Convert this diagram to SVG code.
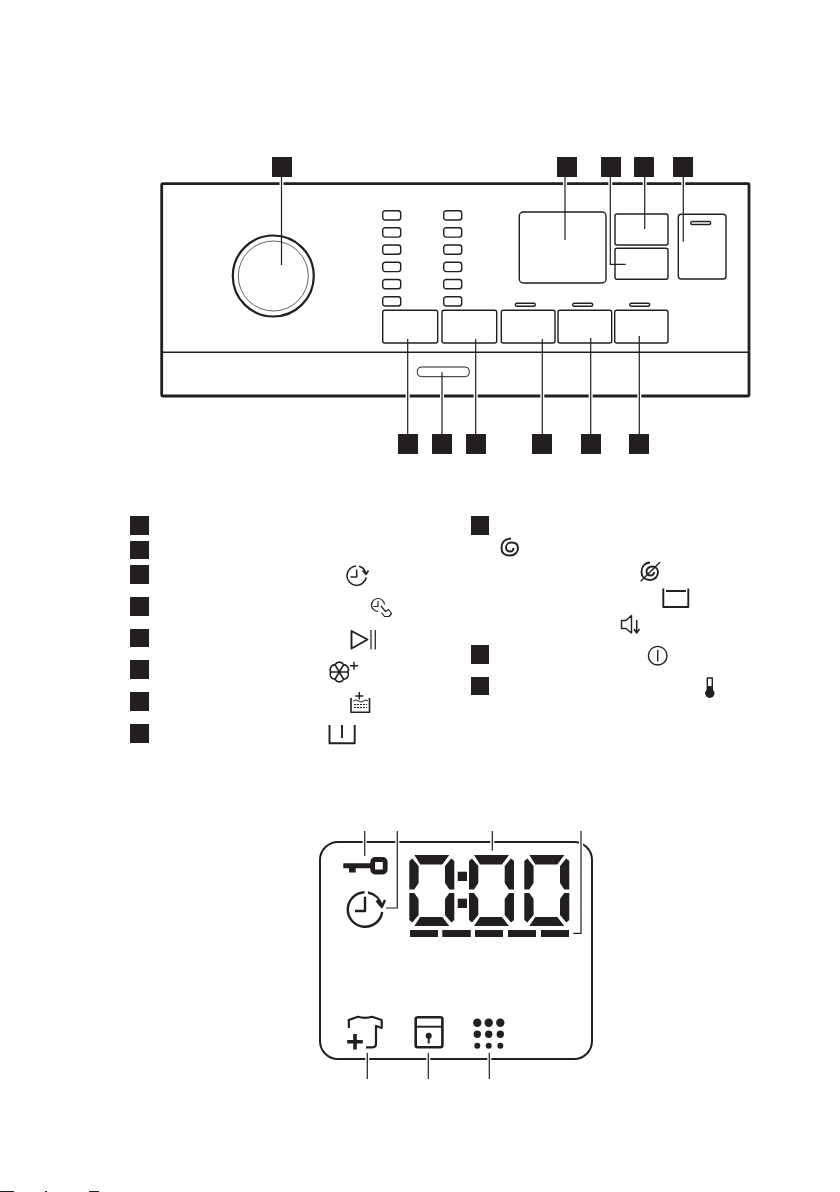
<svg xmlns="http://www.w3.org/2000/svg" width="840" height="1192" viewBox="0 0 840 1192">
<style>
.bg{fill:#fff}
.sq{fill:#231f20}
.ln{fill:none;stroke:#231f20;stroke-width:1.4;stroke-linejoin:round}
.th{fill:none;stroke:#231f20;stroke-width:.7}
.md{fill:none;stroke:#231f20;stroke-width:1.9;stroke-linejoin:round}
.hv{fill:none;stroke:#231f20;stroke-width:2.4;stroke-linejoin:round}
.fl{fill:#231f20}
.seg{fill:#231f20}
.halo{fill:none;stroke:#fff;stroke-width:4}
.ld{fill:none;stroke:#231f20;stroke-width:1.2}
</style>
<defs>
<g id="digit">
<polygon class="seg" points="5,0 40,0 33,9.5 11,9.5"/>
<polygon class="seg" points="0,6 3,3.5 9.3,11 9.3,28 5,34.5 0,34.5"/>
<polygon class="seg" points="45,6 42,3.5 35.7,11 35.7,28 40,34.5 45,34.5"/>
<polygon class="seg" points="0,38 5,38 9.3,44 9.3,60 3,67.5 0,65"/>
<polygon class="seg" points="45,38 40,38 35.7,44 35.7,60 42,67.5 45,65"/>
<polygon class="seg" points="5,71 40,71 33,62 11,62"/>
</g>
<rect id="led" width="18" height="9.3" rx="2.5" class="ln"/>
<rect id="dash" width="20" height="3" rx="1.5" class="ln"/>
</defs>
<rect class="bg" width="840" height="1192"/>

<g id="panel">
<rect x="161.7" y="183.7" width="587.3" height="212.3" rx="1" fill="none" stroke="#231f20" stroke-width="2.8"/>
<line x1="161.7" y1="352.3" x2="749" y2="352.3" class="ln"/>
</g>
<g id="knob">
<circle cx="273.3" cy="276" r="40.5" fill="none" stroke="#231f20" stroke-width="2.2"/>
<circle cx="273.3" cy="276" r="35" class="th"/>
</g>
<g id="leds">
<use href="#led" x="382.7" y="210.7"/><use href="#led" x="382.7" y="227.8"/><use href="#led" x="382.7" y="245"/><use href="#led" x="382.7" y="262.3"/><use href="#led" x="382.7" y="279.5"/><use href="#led" x="382.7" y="296.7"/>
<use href="#led" x="443.7" y="210.7"/><use href="#led" x="443.7" y="227.8"/><use href="#led" x="443.7" y="245"/><use href="#led" x="443.7" y="262.3"/><use href="#led" x="443.7" y="279.5"/><use href="#led" x="443.7" y="296.7"/>
</g>
<g id="buttons">
<rect x="382.7" y="310.3" width="55" height="32.7" rx="2" class="ln"/>
<rect x="442" y="310.3" width="54.7" height="32.7" rx="2" class="ln"/>
<rect x="501.3" y="310.3" width="53.7" height="32.7" rx="2" class="ln"/>
<rect x="558" y="310.3" width="53.7" height="32.7" rx="2" class="ln"/>
<rect x="614.7" y="310.3" width="53.3" height="32.7" rx="2" class="ln"/>
<use href="#dash" x="515.3" y="303.2"/><use href="#dash" x="572.7" y="303.2"/><use href="#dash" x="629.7" y="303.2"/>
<rect x="417.3" y="367" width="52" height="9.7" rx="4" class="th" style="stroke-width:1"/>
</g>
<g id="display">
<rect x="519.3" y="212" width="86.7" height="71" rx="4" class="ln"/>
</g>
<g id="right-buttons">
<rect x="615" y="214" width="53" height="31" rx="2" class="ln"/>
<rect x="615" y="248.3" width="53" height="31" rx="2" class="ln"/>
<rect x="678.3" y="214.3" width="47.7" height="64.7" rx="3" class="ln"/>
<rect x="690.7" y="221.5" width="20" height="3" rx="1.5" class="ln"/>
</g>

<g id="connectors">
<path class="halo" d="M281.5 177V185M565 177V190M610.3 177V190M644.7 177V190M683.3 177V190M407.7 390V402M442 390V402M475.7 390V402M542.3 390V402M590.7 390V402M639.3 390V402"/>
<path class="ld" d="M281.5 177V265M565 177V240M610.3 177V264.3H625.7M644.7 177V229M683.3 177V241.7M407.7 339V434M442 372.3V434M475.7 339V434M542.3 339V434M590.7 338V434M639.3 336V434"/>
</g>

<g id="callouts-top">
<rect class="sq" x="272" y="157" width="20" height="20"/>
<rect class="sq" x="557" y="157" width="20" height="20"/>
<rect class="sq" x="601" y="157" width="20" height="20"/>
<rect class="sq" x="634" y="157" width="20" height="20"/>
<rect class="sq" x="673" y="157" width="20" height="20"/>
</g>
<g id="callouts-bottom">
<rect class="sq" x="398" y="434" width="20" height="20"/>
<rect class="sq" x="432" y="434" width="20" height="20"/>
<rect class="sq" x="466" y="434" width="20" height="20"/>
<rect class="sq" x="532" y="434" width="20" height="20"/>
<rect class="sq" x="581" y="434" width="20" height="20"/>
<rect class="sq" x="629" y="434" width="20" height="20"/>
</g>
<g id="legend-left">
<rect class="sq" x="130" y="516" width="19" height="19"/>
<rect class="sq" x="130" y="541" width="19" height="18"/>
<rect class="sq" x="130" y="565" width="19" height="19"/>
<rect class="sq" x="130" y="597" width="19" height="19"/>
<rect class="sq" x="130" y="629" width="19" height="18"/>
<rect class="sq" x="130" y="660" width="19" height="19"/>
<rect class="sq" x="130" y="692" width="19" height="19"/>
<rect class="sq" x="130" y="724" width="19" height="19"/>
</g>
<g id="legend-right">
<rect class="sq" x="471" y="516" width="18" height="19"/>
<rect class="sq" x="471" y="645" width="18" height="19"/>
<rect class="sq" x="471" y="677" width="18" height="18"/>
</g>

<g id="icon-clock">
<path class="md" style="stroke-width:1.5" d="M366.2 577.5A9.7 9.7 0 1 1 356 566M359 566.2A9.7 9.7 0 0 1 365.8 573M362.5 570.5L366 574.5L368.5 570.5M356.7 569.5V577H350.5"/>
</g>
<g id="icon-clock-hand">
<path class="ln" style="stroke-width:1.2" d="M384.5 604.5A6.5 6.5 0 1 0 378 611.5M378 601V606.5H373.5M381 606L385.5 611.5L388.5 609.5L391.5 613.5L389 616.5L384.5 616.5L381.5 612.5"/>
</g>
<g id="icon-play">
<path class="md" d="M351.5 631L367.5 639.5L351.5 648.5Z"/>
<path class="ln" style="stroke-width:1.2" d="M371 630V649.5M375.3 630V649.5"/>
</g>
<g id="icon-flower">
<path class="md" style="stroke-width:1.7" d="M347.8 672A5 5 0 0 0 343.6 664.6A5 5 0 0 0 335 664.6A5 5 0 0 0 330.8 672A5 5 0 0 0 335 679.4A5 5 0 0 0 343.6 679.4A5 5 0 0 0 347.8 672H330.8M335 664.6L343.6 679.4M343.6 664.6L335 679.4"/>
<path class="ln" d="M350 665.7H358M354 661.7V669.7"/>
</g>
<g id="icon-softener">
<path class="md" style="stroke-width:1.6" d="M351 698V712.3H369.5V698"/>
<path class="ln" style="stroke-width:1" d="M353.5 701Q356 699 358.5 701T363.5 701T368 701"/>
<path class="ln" d="M355.3 696H363.3M359.3 692V699.5"/>
<path class="ln" style="stroke-width:1;stroke-dasharray:2 1" d="M354 704.5H367M354 707.5H367"/>
</g>
<g id="icon-tub">
<path class="md" d="M329.5 725V743.3H354.7V725M342 725V738"/>
</g>
<g id="icon-spiral">
<path class="md" d="M511 538.5C504 539 501.5 543.5 501.5 548C501.5 553 505 555.5 510 555.5C515 555.5 518 552 518 548C518 544 515 542.5 511.5 542.5C508 542.5 506 545 506 547.5C506 550 508 551.5 510 551.5C512 551.5 513.5 550 513.5 548"/>
</g>
<g id="icon-nospin">
<path class="md" d="M650 562.5C644 563 641.5 567.5 641.5 572C641.5 577 645 580 650 580C655 580 658 576 658 572C658 568.5 655 566.5 652 566.5C649 566.5 646.5 569 646.5 571.5C646.5 574 648.5 575.5 650.5 575.5C652.5 575.5 654 574 654 572"/>
<path class="ln" d="M640.7 581.3L660 562.3"/>
</g>
<g id="icon-tub2">
<path class="md" d="M663.3 588.5V607H688.3V588.5M666 591H686"/>
</g>
<g id="icon-speaker">
<path class="ln" d="M621.5 620.5H626L631.5 615.5V633L626 628.5H621.5Z"/>
<path class="md" style="stroke-width:1.5" d="M636.7 620V632.5M634 629L636.7 633L639.5 629"/>
</g>
<g id="icon-power">
<circle class="ln" cx="657.7" cy="655.7" r="9.3"/>
<path class="ln" d="M657.7 650V661.5"/>
</g>
<g id="icon-thermo">
<rect class="ln" x="707.3" y="678" width="5" height="13"/>
<circle class="fl" cx="709.8" cy="693.3" r="4.7"/>
<rect class="fl" x="707.8" y="686" width="4" height="6"/>
</g>

<g id="lcd">
<rect x="320" y="842" width="272" height="217" rx="18" fill="none" stroke="#231f20" stroke-width="2"/>
</g>
<g id="icon-key">
<rect x="372.7" y="859.5" width="12.5" height="12.5" rx="2.5" fill="none" stroke="#231f20" stroke-width="4.8"/>
<path class="fl" d="M343.3 863.3H372V868.3H355.7V872.5H349V868.3H343.3Z"/>
</g>
<g id="icon-delay">
<path class="hv" d="M382.2 912A17.3 17.3 0 1 1 364.5 892.2M368 892.5A17.3 17.3 0 0 1 381.5 905M376.5 900.5L381.8 907L385 900M365 896.7V911H355"/>
</g>
<g id="digits">
<use href="#digit" x="409.3" y="855"/>
<use href="#digit" x="469" y="855"/>
<use href="#digit" x="524.3" y="855"/>
<rect class="fl" x="457.7" y="871.7" width="9.3" height="9.3"/>
<rect class="fl" x="457.7" y="898.7" width="9.3" height="9.3"/>
</g>
<g id="bars">
<rect class="fl" x="410" y="930" width="28" height="7"/>
<rect class="fl" x="442.3" y="930" width="28.5" height="7"/>
<rect class="fl" x="475" y="930" width="28" height="7"/>
<rect class="fl" x="508" y="930" width="28" height="7"/>
<rect class="fl" x="541" y="930" width="28" height="7"/>
</g>
<g id="icon-shirt">
<path class="md" style="stroke-width:2.2" d="M349 1028L348.7 1020L358 1016.8Q365 1019 372 1016.8L381.7 1020L381.7 1028L376 1026V1044Q376 1047.3 372.5 1047.3H366"/>
<path class="fl" d="M353.2 1034H356.8V1040H362.8V1043.5H356.8V1049.5H353.2V1043.5H347.2V1040H353.2Z"/>
</g>
<g id="icon-lock">
<rect x="415.7" y="1017.3" width="26.7" height="30" rx="2" fill="none" stroke="#231f20" stroke-width="2.6"/>
<path class="md" d="M415.7 1026.7H442.4"/>
<circle class="fl" cx="428.7" cy="1035.7" r="3"/>
<rect class="fl" x="427.7" y="1036" width="2" height="7.5"/>
</g>
<g id="icon-dots">
<circle class="fl" cx="477.3" cy="1022.7" r="4.2"/><circle class="fl" cx="488.7" cy="1022.7" r="4.2"/><circle class="fl" cx="500.3" cy="1022.7" r="4.2"/>
<circle class="fl" cx="477.3" cy="1034.3" r="3.7"/><circle class="fl" cx="488.7" cy="1034.3" r="3.7"/><circle class="fl" cx="500.3" cy="1034.3" r="3.7"/>
<circle class="fl" cx="477.3" cy="1045.7" r="3"/><circle class="fl" cx="488.7" cy="1045.7" r="3"/><circle class="fl" cx="500.3" cy="1045.7" r="3"/>
</g>
<g id="lcd-connectors">
<path class="halo" d="M364.7 838V846M397.3 838V846M492.3 838V846M581 838V846M367.3 1054V1064M428.3 1054V1064M489.3 1054V1064"/>
<path class="ld" d="M364.7 831V856M397.3 831V908H386M492.3 831V850.7M581 831V933.3H573.3M367.3 1052.7V1079M428.3 1052.7V1079M489.3 1052.7V1079"/>
</g>
<g id="page-edge">
<rect class="fl" x="0" y="1191" width="14" height="1"/>
<rect class="fl" x="45" y="1191" width="2" height="1"/>
<rect class="fl" x="89" y="1191" width="10" height="1"/>
</g>
</svg>
